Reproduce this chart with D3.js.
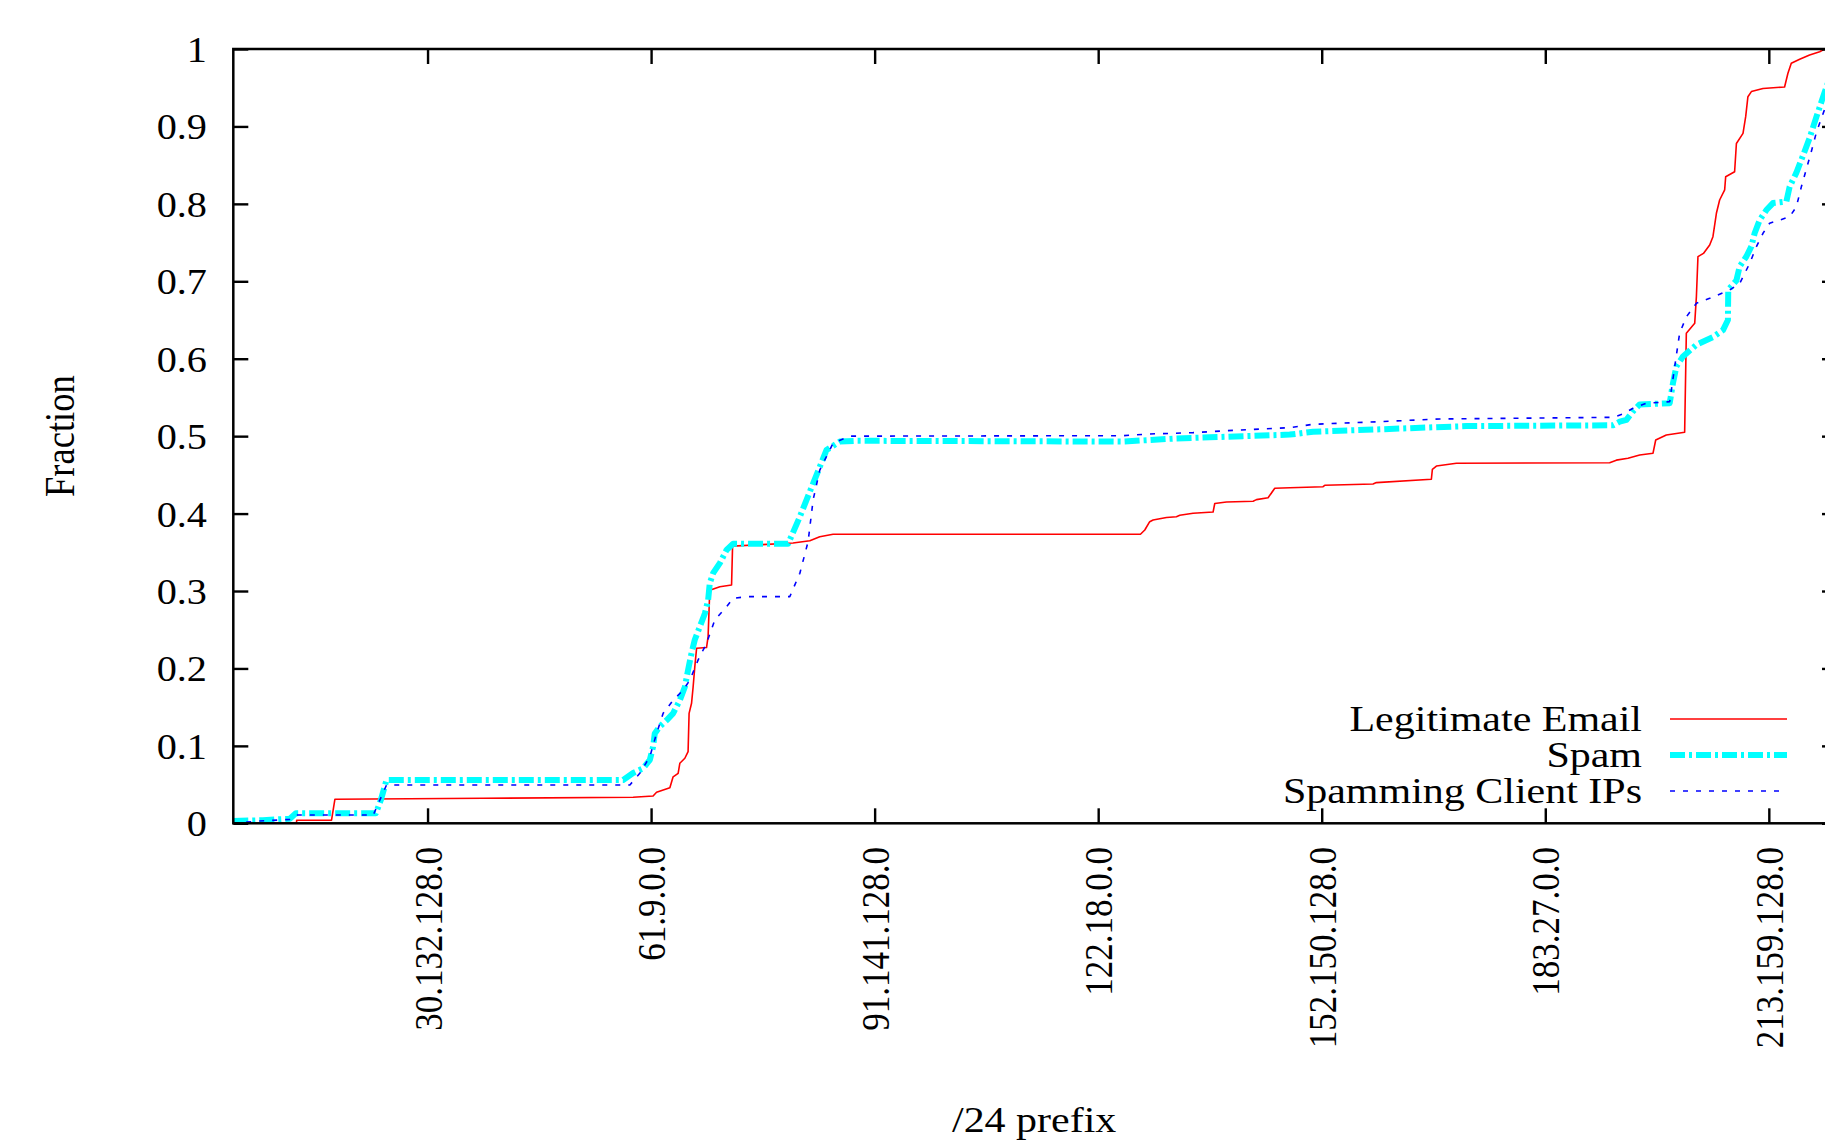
<!DOCTYPE html>
<html>
<head>
<meta charset="utf-8">
<script src="https://cdn.jsdelivr.net/npm/d3@7"></script>
<style>
  html, body { margin: 0; padding: 0; background: #fff; }
  svg { display: block; }
  text { font-family: "Liberation Serif", "Times New Roman", serif; fill: #000; }
</style>
</head>
<body>
<script>
// x values: /24 prefix index in millions (a.b.c -> a*65536 + b*256 + c), y: cumulative fraction
const xTickValues = [2, 4, 6, 8, 10, 12, 14];
const xTickLabels = ["30.132.128.0", "61.9.0.0", "91.141.128.0", "122.18.0.0", "152.150.128.0", "183.27.0.0", "213.159.128.0"];
const yTickValues = [0, 0.1, 0.2, 0.3, 0.4, 0.5, 0.6, 0.7, 0.8, 0.9, 1];
const yTickLabels = ["0", "0.1", "0.2", "0.3", "0.4", "0.5", "0.6", "0.7", "0.8", "0.9", "1"];
const seriesNames = ["Legitimate Email", "Spam", "Spamming Client IPs"];
const xLabel = "/24 prefix";
const yLabel = "Fraction";

const legitEmail = [
  [0.262,0],[0.828,0],[0.829,0.004],[1.141,0.004],[1.171,0.031],[2.498,0.0323],[3.839,0.0336],
  [4.018,0.0352],[4.049,0.040],[4.168,0.046],[4.197,0.060],[4.242,0.0646],[4.257,0.0775],[4.302,0.084],
  [4.331,0.0925],[4.340,0.142],[4.362,0.155],[4.376,0.176],[4.391,0.202],[4.407,0.226],[4.496,0.227],
  [4.510,0.241],[4.525,0.301],[4.615,0.3056],[4.720,0.3078],[4.729,0.358],[5.270,0.362],[5.420,0.365],
  [5.509,0.370],[5.628,0.3733],[8.378,0.3733],[8.417,0.3788],[8.461,0.3895],[8.491,0.3917],[8.611,0.395],
  [8.700,0.396],[8.730,0.3978],[8.849,0.4004],[9.028,0.402],[9.043,0.413],[9.148,0.415],[9.386,0.416],
  [9.416,0.418],[9.520,0.4205],[9.580,0.4327],[9.714,0.4334],[10.012,0.4347],[10.027,0.4365],[10.459,0.4382],
  [10.489,0.440],[10.981,0.4443],[10.990,0.4572],[11.026,0.4614],[11.205,0.465],[12.576,0.4657],[12.636,0.469],
  [12.740,0.4714],[12.845,0.4757],[12.964,0.478],[12.988,0.495],[13.083,0.5015],[13.128,0.5024],[13.247,0.505],
  [13.262,0.633],[13.337,0.6457],[13.352,0.680],[13.366,0.7318],[13.415,0.736],[13.471,0.7469],[13.500,0.7576],
  [13.531,0.7878],[13.560,0.805],[13.605,0.818],[13.614,0.835],[13.694,0.8415],[13.710,0.878],[13.769,0.891],
  [13.793,0.9126],[13.813,0.9384],[13.844,0.945],[13.948,0.949],[14.141,0.951],[14.171,0.9686],[14.201,0.9815],
  [14.276,0.9867],[14.365,0.9922],[14.455,0.9965],[14.499,1.0],[14.6,1.0]
];

const spam = [
  [0.262,0.003],[0.527,0.004],[0.768,0.006],[0.822,0.013],[1.538,0.013],[1.582,0.030],[1.633,0.056],
  [3.750,0.056],[3.839,0.065],[3.929,0.071],[3.989,0.082],[4.018,0.099],[4.033,0.116],[4.078,0.125],
  [4.138,0.133],[4.197,0.142],[4.257,0.159],[4.302,0.176],[4.331,0.198],[4.362,0.220],[4.391,0.237],
  [4.436,0.254],[4.481,0.271],[4.510,0.288],[4.525,0.310],[4.555,0.323],[4.615,0.336],[4.675,0.353],
  [4.734,0.361],[5.226,0.361],[5.331,0.396],[5.450,0.439],[5.569,0.482],[5.688,0.493],[5.838,0.494],
  [8.220,0.493],[8.461,0.495],[8.700,0.497],[8.998,0.4985],[9.293,0.500],[9.714,0.502],[9.922,0.5057],
  [10.519,0.5088],[10.993,0.5114],[11.294,0.513],[12.606,0.514],[12.666,0.5187],[12.726,0.521],[12.785,0.532],
  [12.845,0.541],[13.113,0.5424],[13.142,0.568],[13.173,0.590],[13.232,0.603],[13.352,0.618],[13.500,0.628],
  [13.590,0.637],[13.634,0.650],[13.637,0.689],[13.710,0.701],[13.739,0.719],[13.799,0.732],[13.844,0.745],
  [13.873,0.762],[13.918,0.779],[13.978,0.792],[14.037,0.801],[14.157,0.803],[14.186,0.822],[14.246,0.840],
  [14.305,0.862],[14.365,0.885],[14.425,0.912],[14.499,0.944],[14.6,0.985]
];

const spammingIPs = [
  [0.262,0.0],[0.500,0.003],[0.768,0.005],[0.828,0.0107],[1.514,0.0107],[1.633,0.0495],[3.810,0.0495],
  [3.899,0.0646],[3.989,0.086],[4.049,0.116],[4.108,0.142],[4.197,0.159],[4.287,0.172],[4.347,0.185],
  [4.421,0.211],[4.496,0.2325],[4.570,0.2626],[4.675,0.2797],[4.734,0.2906],[4.854,0.2927],[5.241,0.2927],
  [5.331,0.323],[5.405,0.364],[5.450,0.418],[5.509,0.456],[5.628,0.491],[5.778,0.500],[8.220,0.5006],
  [8.461,0.5028],[8.849,0.5045],[9.148,0.507],[9.714,0.511],[9.922,0.5153],[10.519,0.5187],[11.056,0.5222],
  [12.606,0.5243],[12.695,0.5286],[12.785,0.536],[12.905,0.5424],[13.113,0.5445],[13.158,0.5897],[13.202,0.633],
  [13.262,0.654],[13.352,0.6716],[13.471,0.678],[13.650,0.6888],[13.739,0.697],[13.829,0.7232],[13.889,0.7447],
  [13.948,0.762],[14.007,0.775],[14.097,0.779],[14.186,0.7834],[14.246,0.796],[14.291,0.822],[14.336,0.845],
  [14.381,0.868],[14.425,0.892],[14.499,0.922],[14.6,0.97]
];

const W = 1825, H = 1142;
const mLeft = 233.3, mRight = 1837, mTop = 49, mBottom = 823.3;
const SX = 1.15; // horizontal stretch of the original glyphs
const FS = 35;     // tick labels
const FS2 = 36.5;  // axis titles and key

const svg = d3.select("body").append("svg").attr("width", W).attr("height", H);
svg.append("rect").attr("width", W).attr("height", H).attr("fill", "#fff");

const x = d3.scaleLinear().domain([0.262144, 14.61]).range([mLeft, mRight]);
const y = d3.scaleLinear().domain([0, 1]).range([mBottom, mTop]);

svg.append("clipPath").attr("id", "plotclip")
  .append("rect").attr("x", mLeft).attr("y", mTop - 4).attr("width", mRight - mLeft).attr("height", mBottom - mTop + 8);

const line = d3.line().x(d => x(d[0])).y(d => y(d[1]));
const plot = svg.append("g").attr("clip-path", "url(#plotclip)");

const styles = [
  { data: legitEmail, color: "#ff0000", width: 1.6, dash: null },
  { data: spam, color: "#00ffff", width: 6, dash: "15,4,3,4" },
  { data: spammingIPs, color: "#0000ff", width: 1.6, dash: "5,8" }
];
styles.forEach(s => {
  plot.append("path").datum(s.data)
    .attr("d", line).attr("fill", "none")
    .attr("stroke", s.color).attr("stroke-width", s.width)
    .attr("stroke-linejoin", "round")
    .attr("stroke-dasharray", s.dash);
});

// axes (ticks inward, mirrored)
const tickLen = 15;
function styleAxis(g) {
  g.select(".domain").remove();
  g.selectAll(".tick line").attr("stroke", "#000").attr("stroke-width", 2.4);
}
const gB = svg.append("g").attr("transform", `translate(0,${mBottom})`)
  .call(d3.axisBottom(x).tickValues(xTickValues).tickSizeInner(-tickLen).tickSizeOuter(0)
    .tickFormat((d, i) => xTickLabels[i]));
styleAxis(gB);
gB.selectAll(".tick text")
  .attr("font-size", FS).attr("text-anchor", "end")
  .attr("x", 0).attr("y", 0).attr("dy", 0)
  .attr("transform", `translate(13.6,${847 - mBottom}) scale(${SX},1) rotate(-90)`);

const gT = svg.append("g").attr("transform", `translate(0,${mTop})`)
  .call(d3.axisTop(x).tickValues(xTickValues).tickSizeInner(-tickLen).tickSizeOuter(0).tickFormat(""));
styleAxis(gT);

const gL = svg.append("g").attr("transform", `translate(${mLeft},0)`)
  .call(d3.axisLeft(y).tickValues(yTickValues).tickSizeInner(-tickLen).tickSizeOuter(0)
    .tickFormat((d, i) => yTickLabels[i]));
styleAxis(gL);
gL.selectAll(".tick text")
  .attr("font-size", FS).attr("text-anchor", "end")
  .attr("x", 0).attr("y", 0).attr("dy", 0)
  .attr("transform", `translate(${207 - mLeft},12.5) scale(${SX},1)`);

const gR = svg.append("g").attr("transform", `translate(${mRight},0)`)
  .call(d3.axisRight(y).tickValues(yTickValues).tickSizeInner(-tickLen).tickSizeOuter(0).tickFormat(""));
styleAxis(gR);

svg.append("rect").attr("x", mLeft).attr("y", mTop).attr("width", mRight - mLeft).attr("height", mBottom - mTop)
  .attr("fill", "none").attr("stroke", "#000").attr("stroke-width", 2.5);

// axis labels
svg.append("text").attr("font-size", FS2).attr("text-anchor", "middle")
  .attr("transform", `translate(${(mLeft + mRight) / 2 - 1},1132) scale(${SX},1)`).text(xLabel);
svg.append("text").attr("font-size", FS2).attr("text-anchor", "middle")
  .attr("transform", `translate(74,${(mTop + mBottom) / 2}) scale(${SX},1) rotate(-90)`).text(yLabel);

// legend
const legY = [719, 755, 791];
seriesNames.forEach((name, i) => {
  svg.append("text").attr("font-size", FS2).attr("text-anchor", "end")
    .attr("transform", `translate(1642,${legY[i] + 12}) scale(${SX},1)`).text(name);
  const s = styles[i];
  svg.append("line").attr("x1", 1670).attr("x2", i === 2 ? 1782 : 1787)
    .attr("y1", legY[i]).attr("y2", legY[i])
    .attr("stroke", s.color).attr("stroke-width", s.width)
    .attr("stroke-dasharray", s.dash);
});
</script>
</body>
</html>
